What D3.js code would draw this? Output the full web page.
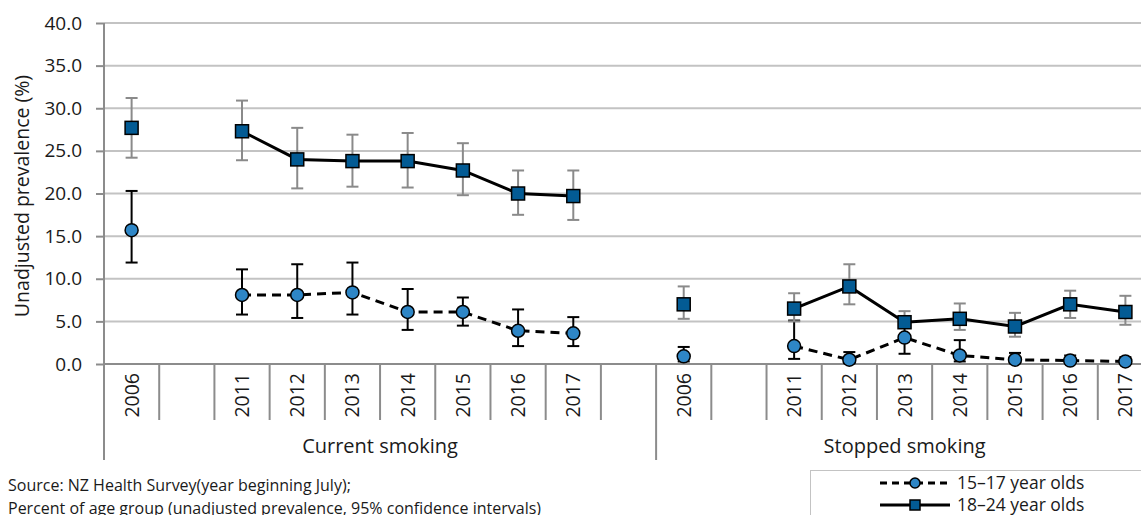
<!DOCTYPE html>
<html>
<head>
<meta charset="utf-8">
<script src="https://cdn.jsdelivr.net/npm/d3@7"></script>
<style>
body { margin: 0; background: #fff; overflow: hidden; }
svg text { font-family: "Open Sans", sans-serif; fill: #1a1a1a; }
</style>
</head>
<body>
<div id="chart"></div>
<script>
var groups = ["Current smoking", "Stopped smoking"];
var currentYears = ["2006", "", "2011", "2012", "2013", "2014", "2015", "2016", "2017", ""];
var stoppedYears = ["2006", "", "2011", "2012", "2013", "2014", "2015", "2016", "2017"];
var yTicks = [0, 5, 10, 15, 20, 25, 30, 35, 40];

// 15-17 year olds
var youthCurrent = [15.7, null, 8.1, 8.1, 8.4, 6.1, 6.1, 3.9, 3.6, null];
var youthCurrentLow = [11.9, null, 5.8, 5.4, 5.8, 4.0, 4.5, 2.1, 2.1, null];
var youthCurrentHigh = [20.3, null, 11.1, 11.7, 11.9, 8.8, 7.8, 6.4, 5.5, null];
var youthStopped = [0.9, null, 2.1, 0.5, 3.1, 1.0, 0.5, 0.4, 0.3];
var youthStoppedLow = [0.3, null, 0.6, 0.1, 1.2, 0.3, 0.1, 0.1, 0.0];
var youthStoppedHigh = [2.0, null, 5.1, 1.4, 5.0, 2.8, 1.3, 1.0, 0.8];

// 18-24 year olds
var adultCurrent = [27.7, null, 27.3, 24.0, 23.8, 23.8, 22.7, 20.0, 19.7, null];
var adultCurrentLow = [24.2, null, 23.9, 20.6, 20.8, 20.7, 19.8, 17.5, 16.9, null];
var adultCurrentHigh = [31.2, null, 30.9, 27.7, 26.9, 27.1, 25.9, 22.7, 22.7, null];
var adultStopped = [7.0, null, 6.5, 9.1, 4.9, 5.3, 4.4, 7.0, 6.1];
var adultStoppedLow = [5.3, null, 5.0, 7.0, 4.3, 4.0, 3.2, 5.4, 4.6];
var adultStoppedHigh = [9.1, null, 8.3, 11.7, 6.2, 7.1, 6.0, 8.6, 8.0];

var seriesNames = ["15\u201317 year olds", "18\u201324 year olds"];
var sourceLines = ["Source: NZ Health Survey(year beginning July);",
    "Percent of age group (unadjusted prevalence, 95% confidence intervals)"];

var width = 1141,
    height = 515;

var svg = d3.select("#chart")
    .append("svg")
    .attr("width", width)
    .attr("height", height);

var categories = [];
currentYears.forEach(function(y, i) {
    categories.push({ key: "c" + i, group: 0, label: y });
});
stoppedYears.forEach(function(y, i) {
    categories.push({ key: "s" + i, group: 1, label: y });
});

function buildSeries(cur, curLo, curHi, stop, stopLo, stopHi) {
    var out = [];
    cur.forEach(function(v, i) {
        out.push({ key: "c" + i, v: v, lo: curLo[i], hi: curHi[i] });
    });
    stop.forEach(function(v, i) {
        out.push({ key: "s" + i, v: v, lo: stopLo[i], hi: stopHi[i] });
    });
    return out;
}

var youth = buildSeries(youthCurrent, youthCurrentLow, youthCurrentHigh, youthStopped, youthStoppedLow, youthStoppedHigh);
var adult = buildSeries(adultCurrent, adultCurrentLow, adultCurrentHigh, adultStopped, adultStoppedLow, adultStoppedHigh);

var plotLeft = 104,
    plotRight = 1153,
    plotTop = 23,
    plotBottom = 364;

var x = d3.scaleBand()
    .domain(categories.map(function(d) { return d.key; }))
    .range([plotLeft, plotRight]);

var y = d3.scaleLinear()
    .domain([0, 40])
    .range([plotBottom, plotTop]);

var axisColor = "#8c8c8c";

// gridlines
svg.append("g")
    .selectAll("line")
    .data(yTicks.slice(1))
    .enter().append("line")
    .attr("x1", plotLeft)
    .attr("x2", width)
    .attr("y1", function(d) { return y(d); })
    .attr("y2", function(d) { return y(d); })
    .attr("stroke", "#c3c3c3")
    .attr("stroke-width", 2);

// y axis
var yAxis = d3.axisLeft(y)
    .tickValues(yTicks)
    .tickSize(8)
    .tickPadding(14)
    .tickFormat(d3.format(".1f"));

var yg = svg.append("g")
    .attr("transform", "translate(" + plotLeft + ",0)")
    .call(yAxis);
yg.select(".domain").remove();
yg.selectAll(".tick line").attr("stroke", axisColor).attr("stroke-width", 2);
yg.selectAll(".tick text")
    .style("font-size", "19px")
    .style("font-family", "'Open Sans', sans-serif")
    .attr("fill", "#1a1a1a");

svg.append("line")
    .attr("x1", plotLeft).attr("x2", plotLeft)
    .attr("y1", plotTop).attr("y2", 460)
    .attr("stroke", axisColor)
    .attr("stroke-width", 2);

// x axis baseline
svg.append("line")
    .attr("x1", plotLeft).attr("x2", width)
    .attr("y1", plotBottom).attr("y2", plotBottom)
    .attr("stroke", axisColor)
    .attr("stroke-width", 2);

// category tick separators
var bw = x.bandwidth();
svg.append("g")
    .selectAll("line")
    .data(categories.slice(1))
    .enter().append("line")
    .attr("x1", function(d) { return x(d.key); })
    .attr("x2", function(d) { return x(d.key); })
    .attr("y1", plotBottom)
    .attr("y2", function(d) { return d.key === "s0" ? 460 : 420; })
    .attr("stroke", axisColor)
    .attr("stroke-width", 2);

// year labels
svg.append("g")
    .selectAll("text")
    .data(categories.filter(function(d) { return d.label !== ""; }))
    .enter().append("text")
    .attr("transform", function(d) {
        return "translate(" + (x(d.key) + bw / 2 + 7) + "," + 373 + ") rotate(-90)";
    })
    .attr("text-anchor", "end")
    .style("font-size", "19.5px")
    .text(function(d) { return d.label; });

// group labels
svg.append("g")
    .selectAll("text")
    .data(groups)
    .enter().append("text")
    .attr("x", function(d, i) {
        var keys = categories.filter(function(c) { return c.group === i; });
        var x0 = x(keys[0].key),
            x1 = x(keys[keys.length - 1].key) + bw;
        return (x0 + x1) / 2;
    })
    .attr("y", 453)
    .attr("text-anchor", "middle")
    .style("font-size", "20px")
    .text(function(d) { return d; });

// y title
svg.append("text")
    .attr("transform", "translate(29,196) rotate(-90)")
    .attr("text-anchor", "middle")
    .style("font-size", "19.5px")
    .text("Unadjusted prevalence (%)");

var line = d3.line()
    .defined(function(d) { return d.v != null; })
    .x(function(d) { return x(d.key) + bw / 2; })
    .y(function(d) { return y(d.v); });

function drawSeries(data, opts) {
    var g = svg.append("g");
    var pts = data.filter(function(d) { return d.v != null; });

    // error bars
    var eb = g.selectAll(".err")
        .data(pts)
        .enter().append("g")
        .attr("stroke", opts.errColor)
        .attr("stroke-width", 2);
    eb.append("line")
        .attr("x1", function(d) { return x(d.key) + bw / 2; })
        .attr("x2", function(d) { return x(d.key) + bw / 2; })
        .attr("y1", function(d) { return y(d.lo); })
        .attr("y2", function(d) { return y(d.hi); });
    eb.append("line")
        .attr("x1", function(d) { return x(d.key) + bw / 2 - 6; })
        .attr("x2", function(d) { return x(d.key) + bw / 2 + 6; })
        .attr("y1", function(d) { return y(d.lo); })
        .attr("y2", function(d) { return y(d.lo); });
    eb.append("line")
        .attr("x1", function(d) { return x(d.key) + bw / 2 - 6; })
        .attr("x2", function(d) { return x(d.key) + bw / 2 + 6; })
        .attr("y1", function(d) { return y(d.hi); })
        .attr("y2", function(d) { return y(d.hi); });

    g.append("path")
        .datum(data)
        .attr("fill", "none")
        .attr("stroke", "#000")
        .attr("stroke-width", 3)
        .attr("stroke-dasharray", opts.dash)
        .attr("d", line);

    if (opts.shape === "circle") {
        g.selectAll(".pt")
            .data(pts)
            .enter().append("circle")
            .attr("cx", function(d) { return x(d.key) + bw / 2; })
            .attr("cy", function(d) { return y(d.v); })
            .attr("r", 6.5)
            .attr("fill", opts.fill)
            .attr("stroke", "#000")
            .attr("stroke-width", 1.5);
    } else {
        g.selectAll(".pt")
            .data(pts)
            .enter().append("rect")
            .attr("x", function(d) { return x(d.key) + bw / 2 - 6.5; })
            .attr("y", function(d) { return y(d.v) - 6.5; })
            .attr("width", 13)
            .attr("height", 13)
            .attr("fill", opts.fill)
            .attr("stroke", "#000")
            .attr("stroke-width", 1.5);
    }
}

drawSeries(youth, { shape: "circle", fill: "#2e86c6", errColor: "#000", dash: "9,6" });
drawSeries(adult, { shape: "square", fill: "#035b94", errColor: "#8a8a8a", dash: null });

// source notes
svg.append("g")
    .selectAll("text")
    .data(sourceLines)
    .enter().append("text")
    .attr("x", 8)
    .attr("y", function(d, i) { return 491 + i * 23; })
    .style("font-size", "16px")
    .text(function(d) { return d; });

// legend
var legend = svg.append("g");
legend.append("rect")
    .attr("x", 810.5)
    .attr("y", 470.5)
    .attr("width", 400)
    .attr("height", 100)
    .attr("fill", "#fff")
    .attr("stroke", "#c3c3c3")
    .attr("stroke-width", 1);

var legRows = legend.selectAll(".row")
    .data(seriesNames)
    .enter().append("g")
    .attr("transform", function(d, i) { return "translate(0," + (483 + i * 22) + ")"; });

legRows.append("line")
    .attr("x1", 880).attr("x2", 950)
    .attr("stroke", "#000")
    .attr("stroke-width", 3)
    .attr("stroke-dasharray", function(d, i) { return i === 0 ? "7,5" : null; });

legRows.each(function(d, i) {
    var r = d3.select(this);
    if (i === 0) {
        r.append("circle").attr("cx", 915).attr("cy", 0).attr("r", 5)
            .attr("fill", "#2e86c6").attr("stroke", "#000").attr("stroke-width", 1.5);
    } else {
        r.append("rect").attr("x", 910).attr("y", -5).attr("width", 10).attr("height", 10)
            .attr("fill", "#035b94").attr("stroke", "#000").attr("stroke-width", 1.5);
    }
});

legRows.append("text")
    .attr("x", 957)
    .attr("dy", "0.35em")
    .style("font-size", "17.5px")
    .text(function(d) { return d; });
</script>
</body>
</html>
